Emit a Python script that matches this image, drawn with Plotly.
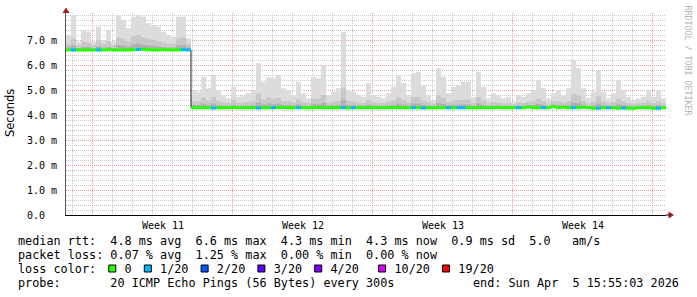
import plotly.graph_objects as go
import pandas as pd

# ---------------- data ----------------
start_time = "2026-03-06 15:55:03"
end_time = "2026-04-05 15:55:03"
bucket_hours = 6

# median rtt per 6h bucket (ms)
median_ms = [
    6.60, 6.60, 6.60, 6.60, 6.60, 6.60, 6.60, 6.60, 6.61, 6.60,
    6.60, 6.60, 6.60, 6.61, 6.62, 6.63, 6.61, 6.60, 6.60, 6.61,
    6.60, 6.60, 6.60, 6.61, 6.60,
    4.29, 4.29, 4.29, 4.29, 4.28,
    4.29, 4.29, 4.29, 4.30, 4.29, 4.29, 4.29, 4.29, 4.28, 4.29,
    4.29, 4.29, 4.30, 4.30, 4.29, 4.29, 4.29, 4.29, 4.29, 4.29,
    4.30, 4.29, 4.29, 4.29, 4.29, 4.29, 4.28, 4.29, 4.29, 4.29,
    4.29, 4.29, 4.29, 4.29, 4.29, 4.30, 4.29, 4.29, 4.29, 4.29,
    4.29, 4.28, 4.29, 4.29, 4.29, 4.29, 4.29, 4.29, 4.29, 4.29,
    4.29, 4.29, 4.29, 4.29, 4.29, 4.29, 4.30, 4.29, 4.29, 4.29,
    4.29, 4.29, 4.32, 4.29, 4.29, 4.29, 4.29, 4.33, 4.29, 4.31,
    4.29, 4.29, 4.29, 4.31, 4.29, 4.27, 4.27, 4.29, 4.29, 4.29,
    4.27, 4.28, 4.27, 4.27, 4.29, 4.29, 4.29, 4.27, 4.27, 4.29,
]

# slowest ping per bucket (top of smoke, ms)
max_ms = [
    7.20, 8.00, 6.93, 7.40, 7.33, 6.93, 7.53, 7.00, 7.40, 6.93,
    8.00, 7.80, 7.47, 7.93, 8.00, 7.93, 7.67, 7.60, 7.53, 7.33,
    7.20, 7.13, 7.93, 7.93, 7.07,
    5.00, 4.93, 5.53, 5.07, 5.60,
    5.00, 4.80, 4.67, 5.13, 4.73, 4.80, 4.87, 5.00, 6.07, 5.33,
    5.50, 5.47, 5.60, 5.07, 5.00, 4.80, 5.33, 4.87, 4.67, 5.53,
    5.47, 6.00, 4.80, 4.93, 5.07, 7.33, 5.00, 4.93, 4.80, 4.73,
    5.27, 4.80, 4.73, 4.67, 4.87, 5.13, 5.60, 5.27, 4.80, 5.67,
    5.73, 5.20, 4.80, 4.60, 5.87, 5.53, 4.87, 5.13, 5.20, 5.33,
    5.33, 4.73, 5.73, 5.13, 4.67, 4.87, 4.80, 4.67, 4.73, 4.53,
    4.80, 4.73, 4.87, 5.00, 5.40, 5.07, 4.67, 4.87, 5.00, 4.80,
    5.07, 6.20, 5.87, 5.07, 4.67, 4.93, 5.80, 4.93, 4.67, 4.87,
    5.40, 5.00, 4.73, 4.60, 4.67, 4.73, 5.00, 4.73, 5.00, 4.67,
]

# upper quantile of pings (mid smoke, ms)
p80_ms = [
    6.85, 7.05, 6.80, 6.95, 6.90, 6.80, 7.00, 6.85, 6.95, 6.80,
    7.10, 7.05, 6.95, 7.15, 7.20, 7.10, 7.05, 7.00, 6.95, 6.90,
    6.85, 6.85, 7.05, 7.10, 6.85,
    4.55, 4.55, 4.70, 4.58, 4.72,
    4.55, 4.50, 4.47, 4.60, 4.48, 4.50, 4.52, 4.55, 4.85, 4.62,
    4.70, 4.65, 4.68, 4.55, 4.55, 4.50, 4.62, 4.52, 4.47, 4.66,
    4.65, 4.80, 4.50, 4.53, 4.56, 5.10, 4.55, 4.53, 4.50, 4.48,
    4.60, 4.50, 4.48, 4.47, 4.52, 4.58, 4.70, 4.60, 4.50, 4.72,
    4.73, 4.58, 4.50, 4.45, 4.78, 4.68, 4.52, 4.58, 4.60, 4.62,
    4.62, 4.48, 4.72, 4.58, 4.47, 4.52, 4.50, 4.47, 4.48, 4.43,
    4.50, 4.48, 4.52, 4.55, 4.65, 4.56, 4.47, 4.55, 4.55, 4.50,
    4.56, 4.85, 4.78, 4.56, 4.47, 4.53, 4.75, 4.53, 4.47, 4.52,
    4.65, 4.55, 4.48, 4.45, 4.47, 4.48, 4.55, 4.48, 4.55, 4.47,
]

# inner quantile of pings (dark smoke, ms)
p60_ms = [
    6.70, 6.78, 6.68, 6.72, 6.72, 6.68, 6.75, 6.70, 6.72, 6.68,
    6.80, 6.78, 6.74, 6.82, 6.85, 6.80, 6.78, 6.76, 6.74, 6.72,
    6.70, 6.70, 6.78, 6.80, 6.70,
    4.40, 4.40, 4.45, 4.40, 4.46,
    4.38, 4.37, 4.36, 4.40, 4.37, 4.37, 4.38, 4.40, 4.50, 4.42,
    4.45, 4.43, 4.44, 4.40, 4.40, 4.38, 4.42, 4.38, 4.36, 4.44,
    4.43, 4.48, 4.38, 4.39, 4.40, 4.60, 4.40, 4.39, 4.38, 4.37,
    4.41, 4.38, 4.37, 4.36, 4.38, 4.40, 4.45, 4.41, 4.38, 4.46,
    4.46, 4.40, 4.38, 4.35, 4.48, 4.44, 4.38, 4.40, 4.41, 4.42,
    4.42, 4.37, 4.46, 4.40, 4.36, 4.38, 4.38, 4.36, 4.37, 4.34,
    4.38, 4.37, 4.40, 4.40, 4.44, 4.40, 4.36, 4.42, 4.40, 4.38,
    4.40, 4.50, 4.47, 4.40, 4.36, 4.38, 4.46, 4.38, 4.36, 4.38,
    4.43, 4.40, 4.37, 4.35, 4.36, 4.37, 4.40, 4.37, 4.40, 4.36,
]

# lost pings (out of 20) per bucket
loss_pings = [
    0, 1, 0, 0, 0, 0, 1, 0, 0, 0,
    0, 0, 0, 0, 1, 0, 0, 0, 0, 0,
    0, 0, 0, 1, 1,
    0, 0, 0, 0, 1,
    0, 0, 0, 0, 0, 0, 0, 0, 1, 0,
    0, 1, 0, 0, 0, 0, 1, 0, 0, 0,
    0, 0, 0, 0, 0, 1, 0, 1, 0, 0,
    0, 0, 0, 0, 0, 0, 0, 0, 0, 1,
    0, 1, 0, 0, 0, 0, 1, 0, 1, 1,
    0, 0, 0, 0, 0, 0, 0, 0, 0, 0,
    1, 0, 0, 0, 0, 1, 0, 0, 0, 0,
    0, 1, 0, 0, 0, 0, 1, 0, 1, 0,
    0, 1, 0, 0, 0, 0, 0, 0, 1, 0,
]

loss_levels = [0, 1, 2, 3, 4, 10, 19]
loss_colors = ["#26ff00", "#00b8ff", "#0059ff", "#5e00ff", "#7e00ff", "#dd00ff", "#ff0000"]
loss_legend = ["0", "1/20", "2/20", "3/20", "4/20", "10/20", "19/20"]

y_tickvals = [0, 1, 2, 3, 4, 5, 6, 7]
y_ticktext = ["0.0\u00a0\u00a0", "1.0 m", "2.0 m", "3.0 m", "4.0 m", "5.0 m", "6.0 m", "7.0 m"]

week_start = "2026-03-08"
week_label_dates = ["2026-03-11 12:00", "2026-03-18 12:00", "2026-03-25 12:00", "2026-04-01 12:00"]
week_labels = ["Week 11", "Week 12", "Week 13", "Week 14"]

line_median = "median rtt:  4.8 ms avg  6.6 ms max  4.3 ms min  4.3 ms now  0.9 ms sd  5.0   am/s"
line_loss = "packet loss: 0.07 % avg  1.25 % max  0.00 % min  0.00 % now"
line_probe = "probe:       20 ICMP Echo Pings (56 Bytes) every 300s"
line_end = "end: Sun Apr  5 15:55:03 2026"
watermark = "RRDTOOL / TOBI OETIKER"

# ---------------- geometry ----------------
W, H = 697, 297
L, R, T, B = 66, 31, 13, 82
PW = W - L - R
PH = H - T - B
YMAX = 8.08
CW = 7.1  # monospace advance of legend font (px)


def px(x):
    return (x - L) / PW


def py(y):
    return (H - B - y) / PH


def nb(s):
    return s.replace(" ", "\u00a0")


n = len(median_ms)
times = pd.date_range(start_time, periods=n + 1, freq=f"{bucket_hours}h")
t_str = [t.strftime("%Y-%m-%d %H:%M:%S") for t in times]


def ext(a):
    return list(a) + [a[-1]]


def loss_index(v):
    k = 0
    for i, lv in enumerate(loss_levels):
        if v >= lv:
            k = i
    return k


fig = go.Figure()

smoke = [(max_ms, "#dcdcdc"), (p80_ms, "#c8c8c8"), (p60_ms, "#b0b0b0")]
for arr, col in smoke:
    fig.add_trace(go.Scatter(x=t_str, y=ext(median_ms), mode="lines", line=dict(width=0, shape="hv"),
                             showlegend=False, hoverinfo="skip"))
    fig.add_trace(go.Scatter(x=t_str, y=ext(arr), mode="lines", line=dict(width=0, shape="hv"),
                             fill="tonexty", fillcolor=col, showlegend=False, hoverinfo="skip"))

# thin dark median line (visible at steps)
fig.add_trace(go.Scatter(x=t_str, y=ext(median_ms), mode="lines",
                         line=dict(width=1, color="#202020", shape="hv"),
                         showlegend=False, hoverinfo="skip"))

# median band coloured by loss: horizontal segments only
for ci, col in enumerate(loss_colors):
    xs, ys = [], []
    for i in range(n):
        if loss_index(loss_pings[i]) == ci:
            xs += [t_str[i], t_str[i + 1], None]
            ys += [median_ms[i], median_ms[i], None]
    if xs:
        fig.add_trace(go.Scatter(x=xs, y=ys, mode="lines", line=dict(width=3, color=col),
                                 connectgaps=False, showlegend=False, hoverinfo="skip"))

grid_gray = "rgb(200,200,200)"
grid_red = "rgb(238,155,155)"

fig.update_layout(
    width=W, height=H,
    margin=dict(l=L, r=R, t=T, b=B, pad=0),
    paper_bgcolor="white", plot_bgcolor="white",
    showlegend=False,
    font=dict(family="DejaVu Sans Mono", color="black"),
    xaxis=dict(
        type="date", range=[start_time, end_time],
        tick0=week_start, dtick=7 * 24 * 3600 * 1000,
        showgrid=True, gridcolor=grid_red, griddash="1px,1px", gridwidth=1,
        showticklabels=False, ticks="",
        minor=dict(tick0=week_start, dtick=24 * 3600 * 1000, showgrid=True,
                   gridcolor=grid_gray, griddash="1px,1px", gridwidth=1, ticks=""),
        showline=True, linecolor="black", linewidth=1,
        zeroline=False, fixedrange=True,
    ),
    yaxis=dict(
        range=[0, YMAX], tickmode="array", tickvals=y_tickvals, ticktext=y_ticktext,
        showgrid=True, gridcolor=grid_red, griddash="1px,1px", gridwidth=1,
        minor=dict(dtick=0.2, tick0=0, showgrid=True, gridcolor=grid_gray,
                   griddash="1px,1px", gridwidth=1, ticks=""),
        ticks="", ticklabelstandoff=6,
        tickfont=dict(family="DejaVu Sans Mono", size=10, color="black"),
        showline=True, linecolor="#555555", linewidth=1,
        zeroline=False, fixedrange=True,
    ),
)

ann = []
for d, lab in zip(week_label_dates, week_labels):
    ann.append(dict(x=d, xref="x", y=py(225), yref="paper", text=nb(lab), showarrow=False,
                    xanchor="center", yanchor="middle",
                    font=dict(family="DejaVu Sans Mono", size=10, color="black")))

ann.append(dict(x=px(10), y=py(113), xref="paper", yref="paper", text="Seconds", textangle=-90,
                showarrow=False, xanchor="center", yanchor="middle",
                font=dict(family="DejaVu Sans", size=11.5, color="black")))

ann.append(dict(x=px(687.5), y=py(60), xref="paper", yref="paper", text=nb(watermark), textangle=90,
                showarrow=False, xanchor="center", yanchor="middle",
                font=dict(family="DejaVu Sans Mono", size=8.3, color="#b4b4b4")))

LEG_FONT = dict(family="DejaVu Sans Mono", size=11.8, color="black")

# loss color row: text with blank cells where the colour boxes go
row = "loss color:  "
box_cols = []
gaps = ["  ", "  ", "  ", "  ", "   ", "  ", ""]
for i, lab in enumerate(loss_legend):
    box_cols.append(len(row))
    row += "  " + lab + gaps[i]

rows = [(line_median, 241), (line_loss, 255), (row, 269), (line_probe, 283)]
for txt, yy in rows:
    ann.append(dict(x=px(16), y=py(yy), xref="paper", yref="paper", text=nb(txt),
                    showarrow=False, xanchor="left", yanchor="middle", font=LEG_FONT))
ann.append(dict(x=px(681), y=py(283), xref="paper", yref="paper", text=nb(line_end),
                showarrow=False, xanchor="right", yanchor="middle", font=LEG_FONT))
fig.update_layout(annotations=ann)

arrow_col = "#a11d1d"
shapes = [
    dict(type="path", xref="paper", yref="paper",
         path=f"M {px(66)},{py(7.5)} L {px(62.5)},{py(13)} L {px(69.5)},{py(13)} Z",
         fillcolor=arrow_col, line=dict(width=0)),
    dict(type="path", xref="paper", yref="paper",
         path=f"M {px(674)},{py(215)} L {px(668.5)},{py(211.5)} L {px(668.5)},{py(218.5)} Z",
         fillcolor=arrow_col, line=dict(width=0)),
    dict(type="line", xref="paper", yref="paper", x0=px(666), x1=px(669), y0=0, y1=0,
         line=dict(color="black", width=1)),
]
for col, ci in zip(loss_colors, box_cols):
    x0 = 16 + ci * CW + 0.5
    shapes.append(dict(type="rect", xref="paper", yref="paper",
                       x0=px(x0), x1=px(x0 + 7), y0=py(265), y1=py(272),
                       fillcolor=col, line=dict(color="black", width=1)))
fig.update_layout(shapes=shapes)

fig.write_html("out.html")
